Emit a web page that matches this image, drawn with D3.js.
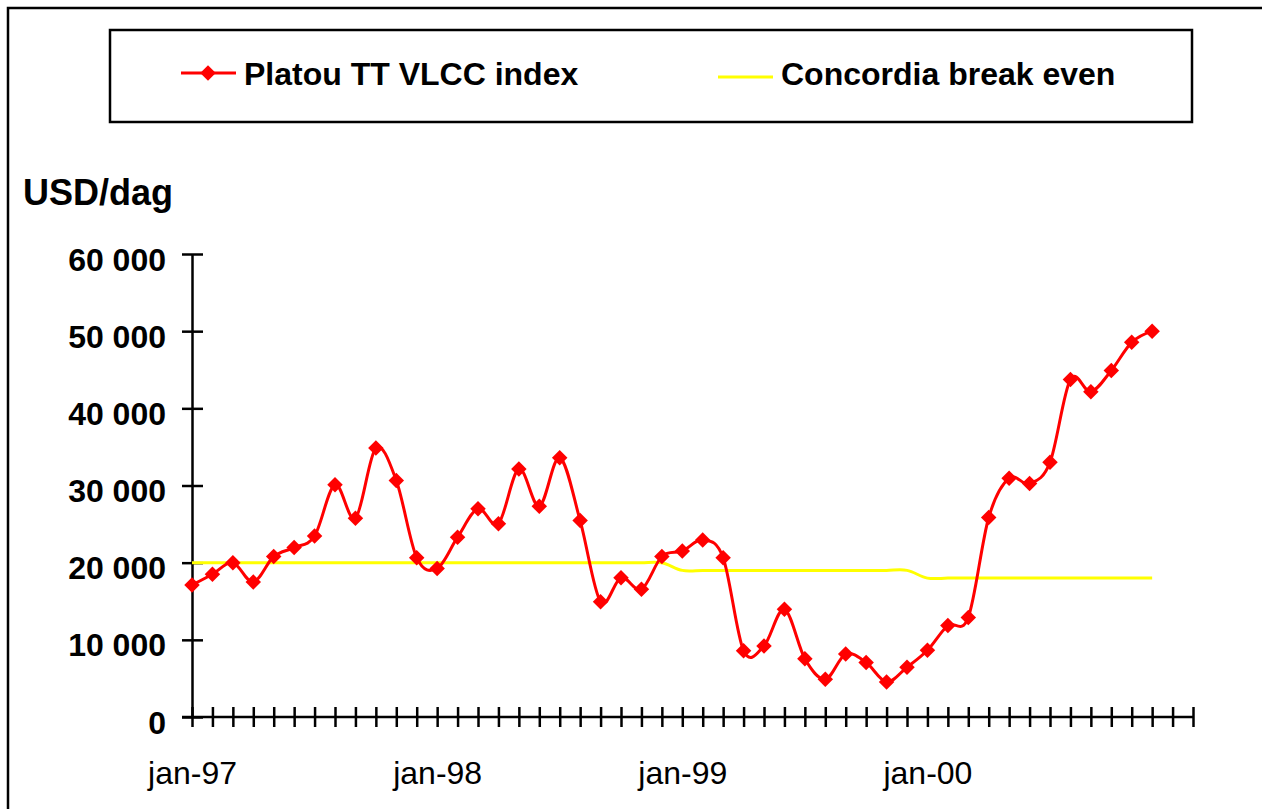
<!DOCTYPE html>
<html lang="en">

<head>
  <meta charset="UTF-8">
  <title>Platou TT VLCC index</title>
  <script src="https://d3js.org/d3.v7.min.js"></script>
  <style>
    html,
    body {
      padding: 0;
      margin: 0;
      background: #fff;
    }

    text {
      font-family: "Liberation Sans", Arial, sans-serif;
    }
  </style>
</head>

<body>
  <script>
    const width = 1262;
    const height = 809;

    // monthly points, jan-97 .. dec-00
    const platou = [
      17100, 18500, 20000, 17500, 20800, 21950, 23450, 30100, 25750, 34850, 30650, 20650,
      19250, 23300, 27000, 25050, 32150, 27300, 33600, 25450, 14950, 18050, 16550, 20800,
      21500, 22950, 20650, 8600, 9200, 13950, 7550, 4900, 8150, 7050, 4550, 6450,
      8650, 11850, 12900, 25850, 30950, 30250, 33000, 43750, 42150, 44900, 48550, 50000
    ];
    const breakEven = [
      20000, 20000, 20000, 20000, 20000, 20000, 20000, 20000, 20000, 20000, 20000, 20000,
      20000, 20000, 20000, 20000, 20000, 20000, 20000, 20000, 20000, 20000, 20000, 20000,
      19000, 19000, 19000, 19000, 19000, 19000, 19000, 19000, 19000, 19000, 19000, 19000,
      18000, 18000, 18000, 18000, 18000, 18000, 18000, 18000, 18000, 18000, 18000, 18000
    ];
    const yearLabels = ["jan-97", "jan-98", "jan-99", "jan-00"];
    const yTicks = [0, 10000, 20000, 30000, 40000, 50000, 60000];
    const seriesNames = ["Platou TT VLCC index", "Concordia break even"];

    const x = d3.scaleLinear().domain([0, 49]).range([192, 1193]);
    const y = d3.scaleLinear().domain([0, 60000]).range([717, 254]);

    const svg = d3.select("body").append("svg")
      .attr("width", width)
      .attr("height", height);

    // outer frame (only left and top edges show)
    svg.append("rect")
      .attr("x", 8).attr("y", 8)
      .attr("width", 1300).attr("height", 900)
      .attr("fill", "none").attr("stroke", "#000").attr("stroke-width", 2.5);

    // legend box
    svg.append("rect")
      .attr("x", 110).attr("y", 30)
      .attr("width", 1082).attr("height", 92)
      .attr("fill", "#fff").attr("stroke", "#000").attr("stroke-width", 2.5);

    const marker = d3.symbol(d3.symbolSquare, 120);

    const legend = svg.append("g");
    legend.append("line")
      .attr("x1", 181).attr("x2", 236).attr("y1", 73).attr("y2", 73)
      .attr("stroke", "#ff0000").attr("stroke-width", 3);
    legend.append("path")
      .attr("d", marker())
      .attr("transform", "translate(208,73) rotate(45)")
      .attr("fill", "#ff0000");
    legend.append("text")
      .attr("x", 244).attr("y", 85)
      .attr("font-size", 32).attr("font-weight", "bold")
      .text(seriesNames[0]);
    legend.append("line")
      .attr("x1", 718).attr("x2", 773).attr("y1", 77).attr("y2", 77)
      .attr("stroke", "#ffff00").attr("stroke-width", 3);
    legend.append("text")
      .attr("x", 781).attr("y", 85)
      .attr("font-size", 32).attr("font-weight", "bold")
      .text(seriesNames[1]);

    // unit title
    svg.append("text")
      .attr("x", 23).attr("y", 205)
      .attr("font-size", 36).attr("font-weight", "bold")
      .text("USD/dag");

    // y axis
    const yAxis = d3.axisLeft(y)
      .tickValues(yTicks)
      .tickSize(0)
      .tickPadding(26)
      .tickFormat(d => d3.format(",")(d).replace(/,/g, " "));
    const gy = svg.append("g").attr("transform", "translate(192,0)").call(yAxis);
    gy.select(".domain").attr("stroke", "#000").attr("stroke-width", 2.5);
    gy.selectAll(".tick text")
      .attr("font-size", 32).attr("font-weight", "bold").attr("fill", "#000")
      .attr("dy", "0.5em")
      .attr("font-family", "'Liberation Sans', Arial, sans-serif");
    gy.selectAll(".tick").append("line")
      .attr("x1", -10).attr("x2", 11)
      .attr("stroke", "#000").attr("stroke-width", 2.5);

    // x axis with crossing month ticks
    const xAxis = d3.axisBottom(x)
      .tickValues(d3.range(0, 50))
      .tickSize(0)
      .tickFormat(d => (d % 12 === 0 ? yearLabels[d / 12] : ""))
      .tickPadding(44);
    const gx = svg.append("g").attr("transform", "translate(0,717)").call(xAxis);
    gx.select(".domain").remove();
    gx.append("line")
      .attr("x1", 182).attr("x2", 1193)
      .attr("stroke", "#000").attr("stroke-width", 2.5);
    gx.selectAll(".tick").append("line")
      .attr("y1", -10).attr("y2", 10)
      .attr("stroke", "#000").attr("stroke-width", 2.5);
    gx.selectAll(".tick text")
      .attr("font-size", 32).attr("fill", "#000")
      .attr("font-family", "'Liberation Sans', Arial, sans-serif");

    const line = d3.line()
      .x((d, i) => x(i))
      .y(d => y(d))
      .curve(d3.curveCardinal.tension(0));

    svg.append("path")
      .attr("d", line(breakEven))
      .attr("fill", "none")
      .attr("stroke", "#ffff00")
      .attr("stroke-width", 3);

    svg.append("path")
      .attr("d", line(platou))
      .attr("fill", "none")
      .attr("stroke", "#ff0000")
      .attr("stroke-width", 3);

    svg.selectAll(".marker")
      .data(platou)
      .enter().append("path")
      .attr("class", "marker")
      .attr("d", marker())
      .attr("transform", (d, i) => `translate(${x(i)},${y(d)}) rotate(45)`)
      .attr("fill", "#ff0000");
  </script>
</body>

</html>
